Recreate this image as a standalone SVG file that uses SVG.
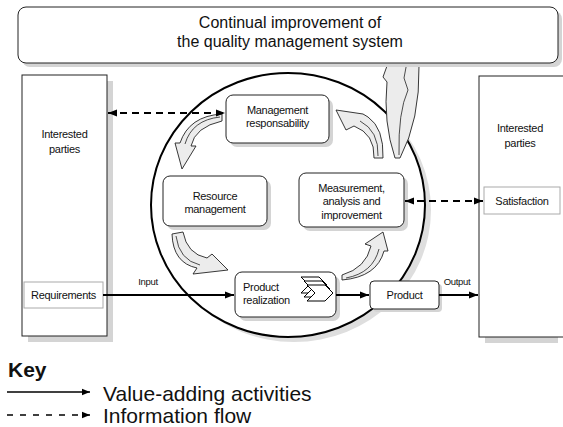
<svg xmlns="http://www.w3.org/2000/svg" width="563" height="427" viewBox="0 0 563 427">
<defs>
<style>
.t{font-family:"Liberation Sans",Arial,sans-serif;fill:#111;}
.n{font-size:11px;letter-spacing:-0.3px;text-anchor:middle;}
.sm{font-size:9.5px;letter-spacing:-0.3px;text-anchor:middle;}
.box{fill:#fff;stroke:#222;stroke-width:1;}
.lbox{fill:#fff;stroke:#aaa;stroke-width:1;}
.sh{fill:#d4d4d4;}
.ca{fill:#ececec;stroke:#222;stroke-width:0.9;stroke-linejoin:miter;}
.fold{fill:none;stroke:#222;stroke-width:0.8;}
.solid{stroke:#000;stroke-width:2;fill:none;}
.dash{stroke:#000;stroke-width:2;fill:none;stroke-dasharray:7 5;}
</style>
<marker id="ah" viewBox="0 0 10 10" refX="10" refY="5" markerWidth="9" markerHeight="9" markerUnits="userSpaceOnUse" orient="auto-start-reverse">
<path d="M0,1 L10,5 L0,9 Z" fill="#000"/>
</marker>
<marker id="ahk" viewBox="0 0 10 10" refX="10" refY="5" markerWidth="8" markerHeight="8" markerUnits="userSpaceOnUse" orient="auto-start-reverse">
<path d="M0,1 L10,5 L0,9 Z" fill="#000"/>
</marker>
</defs>
<rect width="563" height="427" fill="#fff"/>

<g id="cycle">
<ellipse cx="294" cy="210" rx="137" ry="132" fill="#dedede"/>
<ellipse cx="288" cy="205" rx="137" ry="132" fill="#fff" stroke="#000" stroke-width="2"/>
</g>

<g id="improve-arrow">
<path class="ca" d="M395,158 Q383,122 387,82 L383,77 L400,30 L424,58 L419,66 Q420,120 400,158 Z"/>
<path class="fold" d="M399,155 Q398,112 408,90 L404,78 L407,62"/>
</g>

<g id="top">
<rect class="sh" x="22" y="11" width="540" height="56" rx="8"/>
<rect class="box" x="18" y="7" width="540" height="56" rx="8"/>
<text class="t" x="290" y="28" font-size="16" text-anchor="middle">Continual improvement of</text>
<text class="t" x="290" y="47" font-size="16" text-anchor="middle">the quality management system</text>
</g>

<g id="left-parties">
<rect class="sh" x="28" y="81" width="85" height="261"/>
<rect class="box" x="22" y="75" width="85" height="261"/>
<text class="t n" x="64.5" y="138">Interested</text>
<text class="t n" x="64.5" y="153">parties</text>
</g>
<g id="requirements">
<rect class="lbox" x="24" y="282" width="79" height="26"/>
<text class="t n" x="63.5" y="299">Requirements</text>
</g>

<g id="right-parties">
<rect class="sh" x="485" y="82" width="73" height="261"/>
<rect class="box" x="479" y="76" width="100" height="261"/>
<text class="t n" x="520" y="132">Interested</text>
<text class="t n" x="520" y="147">parties</text>
</g>
<g id="satisfaction">
<rect class="lbox" x="484" y="187" width="76" height="27"/>
<text class="t n" x="522" y="205">Satisfaction</text>
</g>

<g id="management">
<rect class="sh" x="230" y="99" width="103" height="48" rx="7"/>
<rect class="box" x="226" y="95" width="103" height="48" rx="7"/>
<text class="t n" x="277.5" y="113.5">Management</text>
<text class="t n" x="277.5" y="126.5">responsability</text>
</g>

<g id="resource">
<rect class="sh" x="167" y="180" width="104" height="50" rx="7"/>
<rect class="box" x="163" y="176" width="104" height="50" rx="7"/>
<text class="t n" x="215" y="199.5">Resource</text>
<text class="t n" x="215" y="213">management</text>
</g>

<g id="measurement">
<rect class="sh" x="303" y="177" width="105" height="54" rx="7"/>
<rect class="box" x="299" y="173" width="105" height="54" rx="7"/>
<text class="t n" x="351.5" y="191.5">Measurement,</text>
<text class="t n" x="351.5" y="205">analysis and</text>
<text class="t n" x="351.5" y="218.5">improvement</text>
</g>

<g id="realization">
<rect class="sh" x="239" y="276" width="101" height="45" rx="7"/>
<rect class="box" x="235" y="272" width="101" height="45" rx="7"/>
<text class="t" x="243" y="291" font-size="11" letter-spacing="-0.3">Product</text>
<text class="t" x="243" y="303.5" font-size="11" letter-spacing="-0.3">realization</text>
<g fill="#fff" stroke="#000" stroke-width="1">
<path d="M301,277 H319 L327,285 L319,293 H301 L309,285 Z"/>
<path d="M304,281 H322 L330,289 L322,297 H304 L312,289 Z"/>
<path d="M307,285 H325 L333,293 L325,301 H307 L315,293 Z"/>
</g>
</g>

<g id="product">
<rect class="sh" x="373" y="284" width="69" height="28" rx="4"/>
<rect class="box" x="370" y="281" width="69" height="28" rx="4"/>
<text class="t n" x="404.5" y="298.5">Product</text>
</g>

<g id="cycle-arrows">
<path class="ca" d="M222,114 Q189,116 180,143 L175,143 L182,169 L196,146 L191,146 Q195,127 222,121 Z"/>
<path class="fold" d="M220,117 Q192,120 185,144"/>
<path class="ca" d="M172,234 Q173,263 197,268 L193,274 L228,270 L212,254 L207,258 Q187,254 183,232 Z"/>
<path class="fold" d="M176,236 Q179,260 200,265"/>
<path class="ca" d="M342,280 Q377,277 384,251 L388,251 L383,232 L365,244 L371,246 Q366,268 342,275 Z"/>
<path class="fold" d="M346,278 Q373,273 379,249"/>
<path class="ca" d="M374,158 Q375,134 354,126 L346,130 L336,110 L363,114 L368,117 Q384,128 383,158 Z"/>
<path class="fold" d="M378,156 Q379,131 360,121"/>
</g>

<g id="connectors">
<line class="dash" x1="108" y1="113" x2="225" y2="113" marker-start="url(#ah)" marker-end="url(#ah)"/>
<line class="dash" x1="405" y1="201" x2="483" y2="201" marker-start="url(#ah)" marker-end="url(#ah)"/>
<line class="solid" x1="103" y1="295" x2="234" y2="295" marker-end="url(#ah)"/>
<line class="solid" x1="336" y1="295" x2="369" y2="295" marker-end="url(#ah)"/>
<line class="solid" x1="439" y1="295" x2="478" y2="295" marker-end="url(#ah)"/>
<text class="t sm" x="148" y="285">Input</text>
<text class="t sm" x="457" y="285">Output</text>
</g>

<g id="key">
<text class="t" x="8" y="377" font-size="21" font-weight="bold">Key</text>
<line x1="7" y1="392" x2="90" y2="392" stroke="#000" stroke-width="1.5" marker-end="url(#ahk)"/>
<text class="t" x="103" y="401" font-size="21">Value-adding activities</text>
<line x1="7" y1="415" x2="90" y2="415" stroke="#000" stroke-width="1.5" stroke-dasharray="6 7" marker-end="url(#ahk)"/>
<text class="t" x="103" y="423" font-size="21">Information flow</text>
</g>
</svg>
